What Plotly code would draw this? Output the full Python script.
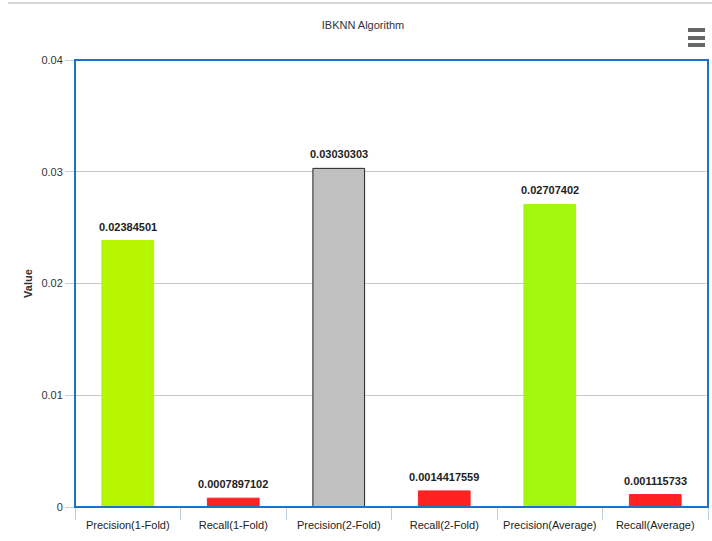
import plotly.graph_objects as go

categories = ["Precision(1-Fold)", "Recall(1-Fold)", "Precision(2-Fold)",
              "Recall(2-Fold)", "Precision(Average)", "Recall(Average)"]
values = [0.02384501, 0.0007897102, 0.03030303, 0.0014417559, 0.02707402, 0.001115733]
labels = ["0.02384501", "0.0007897102", "0.03030303", "0.0014417559", "0.02707402", "0.001115733"]
colors = ["#b5f500", "#ff2222", "#c0c0c0", "#ff2222", "#a3f70f", "#ff2222"]
outline = ["#b5f500", "#ff2222", "#222222", "#ff2222", "#a3f70f", "#ff2222"]
y_ticks = [0, 0.01, 0.02, 0.03, 0.04]
y_ticklabels = ["0", "0.01", "0.02", "0.03", "0.04"]

W, H = 712, 541
L, R, T, B = 75, 4, 60, 34
pw, ph = W - L - R, H - T - B

def px(x):
    return (x - L) / pw

def py(y):
    return (H - B - y) / ph

FONT = "Liberation Sans, Arial, sans-serif"

fig = go.Figure(go.Bar(
    x=categories, y=values, width=0.49,
    marker=dict(color=colors, line=dict(color=outline, width=1)),
    cliponaxis=False,
))

for c, v, t in zip(categories, values, labels):
    fig.add_annotation(x=c, y=v, text=f"<b>{t}</b>", showarrow=False,
                       yanchor="bottom", yshift=6,
                       font=dict(family=FONT, size=11, color="#222222"))

shapes = [
    # plot border
    dict(type="rect", xref="paper", yref="paper", x0=0, x1=1, y0=0, y1=1,
         line=dict(color="#1a73c8", width=2), layer="above"),
    # top container line
    dict(type="line", xref="paper", yref="paper", x0=px(8), x1=px(712), y0=py(3), y1=py(3),
         line=dict(color="#d8d8d8", width=2)),
]
for y0, y1 in [(28, 32), (36, 40), (43, 47)]:
    shapes.append(dict(type="rect", xref="paper", yref="paper",
                       x0=px(688), x1=px(705), y0=py(y1), y1=py(y0),
                       fillcolor="#666666", line=dict(color="#666666", width=0)))

fig.update_layout(
    width=W, height=H,
    margin=dict(l=L, r=R, t=T, b=B, autoexpand=False),
    paper_bgcolor="white", plot_bgcolor="white",
    font=dict(family=FONT, size=11, color="#333333"),
    showlegend=False,
    title=dict(text="IBKNN Algorithm", xref="container", yref="container",
               x=363 / W, y=1 - 25 / H, xanchor="center", yanchor="middle",
               font=dict(family=FONT, size=11, color="#333333")),
    xaxis=dict(tickson="boundaries", ticks="outside", ticklen=12, tickcolor="#c0d0e0",
               tickangle=0, automargin=False, ticklabelstandoff=10,
               showgrid=False, showline=False, tickfont=dict(size=11, color="#222222")),
    yaxis=dict(range=[0, 0.04], tickvals=y_ticks, ticktext=y_ticklabels,
               ticks="outside", ticklen=9, tickcolor="#c0d0e0", automargin=False,
               showgrid=True, gridcolor="#c8c8c8", gridwidth=1, zeroline=False,
               showline=False, tickfont=dict(size=11, color="#333333"),
               title=dict(text="<b>Value</b>", font=dict(size=11, color="#333333"), standoff=6)),
    shapes=shapes,
)

fig.write_html("out.html")
